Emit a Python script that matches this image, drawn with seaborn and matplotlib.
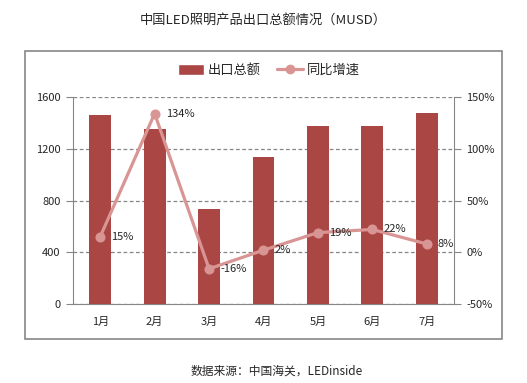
import numpy as np
import pandas as pd
import seaborn as sns
import matplotlib.pyplot as plt
from matplotlib.patches import Rectangle
from matplotlib.lines import Line2D

months = ['1月', '2月', '3月', '4月', '5月', '6月', '7月']
export_total = [1460, 1355, 735, 1138, 1378, 1378, 1478]
growth = [15, 134, -16, 2, 19, 22, 8]

bar_color = '#AA4643'
line_color = '#D99594'
axis_gray = '#868686'

sns.set_style('white')
plt.rcParams['font.family'] = ['Noto Sans CJK SC', 'DejaVu Sans']

df = pd.DataFrame({'month': months, 'total': export_total, 'growth': growth})

fig = plt.figure(figsize=(5.27, 3.83), dpi=100)
ax = fig.add_axes([0.1385, 0.2063, 0.723, 0.5404])

# outer frame
fig.patches.append(Rectangle((0.0474, 0.1149), 0.9052, 0.7519, transform=fig.transFigure,
                             fill=False, edgecolor=axis_gray, linewidth=1.2, zorder=0))

sns.barplot(data=df, x='month', y='total', color=bar_color, width=0.4,
            saturation=1, linewidth=0, ax=ax, zorder=3)
ax.set_ylim(0, 1600)
ax.set_yticks([0, 400, 800, 1200, 1600])
ax.set_xlim(-0.5, 6.5)
ax.set_xlabel('')
ax.set_ylabel('')
ax.yaxis.grid(True, linestyle=(0, (3, 2)), color=axis_gray, linewidth=0.9, zorder=0)
ax.set_axisbelow(True)

# x ticks at category boundaries, labels centred
ax.set_xticks(np.arange(-0.5, 7, 1))
ax.set_xticklabels([])
ax.set_xticks(np.arange(7), minor=True)
ax.set_xticklabels(months, minor=True)
ax.tick_params(axis='x', which='major', length=4, color=axis_gray, direction='out')
ax.tick_params(axis='x', which='minor', length=0, labelsize=8, pad=9)
ax.tick_params(axis='y', length=5, color=axis_gray, direction='out', labelsize=8, pad=4)

for s in ['left', 'bottom']:
    ax.spines[s].set_color(axis_gray)
ax.spines['top'].set_visible(False)
ax.spines['right'].set_visible(False)

ax2 = ax.twinx()
sns.lineplot(data=df, x='month', y='growth', color=line_color, linewidth=2.3,
             marker='o', markersize=6.5, markeredgecolor=line_color, ax=ax2, zorder=5)
ax2.set_ylim(-50, 150)
ax2.set_yticks([-50, 0, 50, 100, 150])
ax2.set_yticklabels([f'{v}%' for v in [-50, 0, 50, 100, 150]])
ax2.set_xlim(-0.5, 6.5)
ax2.set_ylabel('')
ax2.set_xlabel('')
ax2.tick_params(axis='y', length=5, color=axis_gray, direction='out', labelsize=8, pad=4)
ax2.spines['right'].set_color(axis_gray)
ax2.spines['top'].set_visible(False)
ax2.spines['left'].set_visible(False)
ax2.spines['bottom'].set_visible(False)

for i, v in enumerate(growth):
    ax2.annotate(f'{v}%', (i, v), xytext=(8, 0), textcoords='offset points',
                 ha='left', va='center', fontsize=8, zorder=6)

fig.text(0.5, 0.945, '中国LED照明产品出口总额情况（MUSD）', ha='center', va='center', fontsize=9.5)
fig.text(0.525, 0.03, '数据来源：中国海关，LEDinside', ha='center', va='center', fontsize=8.5)

handles = [Rectangle((0, 0), 1, 1, facecolor=bar_color),
           Line2D([], [], color=line_color, linewidth=2.3, marker='o', markersize=6)]
fig.legend(handles, ['出口总额', '同比增速'], loc='center', bbox_to_anchor=(0.51, 0.817),
           ncol=2, frameon=False, fontsize=9.5, handlelength=2.0, handleheight=0.9,
           columnspacing=1.2, handletextpad=0.3)

fig.savefig('out.png', dpi=100)
